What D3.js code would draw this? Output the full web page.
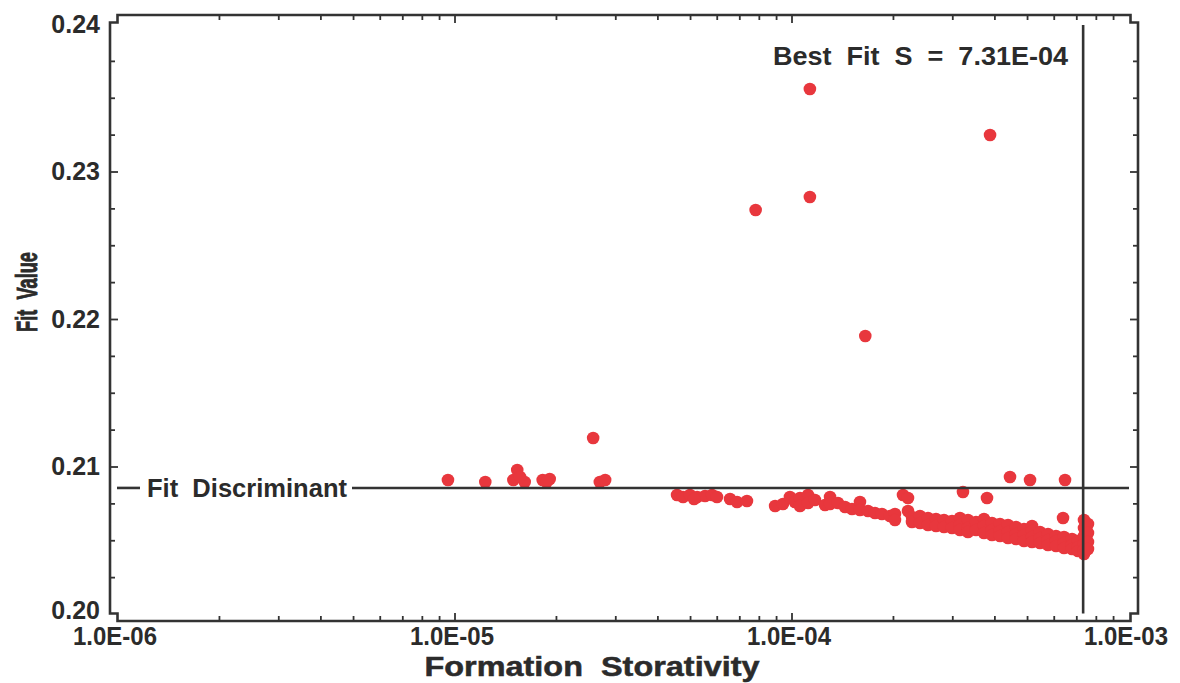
<!DOCTYPE html>
<html><head><meta charset="utf-8">
<script src="https://cdn.jsdelivr.net/npm/d3@7"></script>
<style>
html,body{margin:0;padding:0;background:#fff;}
svg{display:block;}
text{font-family:"Liberation Sans",Arial,Helvetica,sans-serif;font-weight:bold;fill:#2b2b2b;white-space:pre;}
</style></head><body>
<svg id="chart" width="1180" height="683"></svg>
<script>
// ---- axis definitions ----
const xTickValues = [1e-6, 1e-5, 1e-4, 1e-3];
const xTickLabels = ["1.0E-06", "1.0E-05", "1.0E-04", "1.0E-03"];
const yTickValues = [0.20, 0.21, 0.22, 0.23, 0.24];
const yTickLabels = ["0.20", "0.21", "0.22", "0.23", "0.24"];
const xTitle = "Formation  Storativity";
const yTitle = "Fit  Value";

// ---- reference lines ----
const fitDiscriminant = 0.20858;
const discriminantLabel = "Fit  Discriminant";
const bestFitS = 7.31e-4;
const bestFitLabel = "Best  Fit  S  =  7.31E-04";

// ---- data: [storativity, fit value] ----
const leftGroup = [
  [9.53e-6, 0.20912], [1.23e-5, 0.20898], [1.53e-5, 0.20980], [1.49e-5, 0.20912],
  [1.61e-5, 0.20898], [1.56e-5, 0.20932], [1.82e-5, 0.20912], [1.91e-5, 0.20919],
  [1.87e-5, 0.20898], [2.57e-5, 0.21197], [2.69e-5, 0.20898], [2.79e-5, 0.20912]
];
const middleGroup = [
  [4.56e-5, 0.20810], [4.75e-5, 0.20797], [4.98e-5, 0.20810], [5.23e-5, 0.20797],
  [5.52e-5, 0.20803], [5.79e-5, 0.20810], [5.99e-5, 0.20797], [5.12e-5, 0.20783],
  [6.55e-5, 0.20783], [6.87e-5, 0.20763], [7.35e-5, 0.20769], [8.91e-5, 0.20736],
  [9.40e-5, 0.20749], [9.86e-5, 0.20797], [1.02e-4, 0.20763]
];
const outliers = [
  [1.13e-4, 0.23563], [1.13e-4, 0.22831], [7.8e-5, 0.22742], [3.87e-4, 0.23251],
  [1.65e-4, 0.21888]
];
const upperRight = [
  [2.135e-4, 0.20810], [2.209e-4, 0.20790], [3.216e-4, 0.20831], [3.790e-4, 0.20790],
  [4.435e-4, 0.20932], [5.085e-4, 0.20912], [6.459e-4, 0.20912], [6.372e-4, 0.20654]
];
const band = [
  [1.056e-4, 0.20790], [1.056e-4, 0.20736], [1.116e-4, 0.20810], [1.116e-4, 0.20756],
  [1.170e-4, 0.20776], [1.253e-4, 0.20742], [1.297e-4, 0.20797], [1.297e-4, 0.20749],
  [1.369e-4, 0.20756], [1.437e-4, 0.20729], [1.507e-4, 0.20715], [1.591e-4, 0.20763],
  [1.591e-4, 0.20708], [1.681e-4, 0.20702], [1.763e-4, 0.20688], [1.849e-4, 0.20681],
  [1.953e-4, 0.20668], [2.021e-4, 0.20681], [2.021e-4, 0.20641], [2.209e-4, 0.20702],
  [2.270e-4, 0.20661], [2.270e-4, 0.20627], [2.398e-4, 0.20668], [2.398e-4, 0.20620],
  [2.533e-4, 0.20654], [2.533e-4, 0.20607], [2.675e-4, 0.20647], [2.675e-4, 0.20600],
  [2.825e-4, 0.20641], [2.825e-4, 0.20593], [2.984e-4, 0.20634], [2.984e-4, 0.20586],
  [3.151e-4, 0.20654], [3.151e-4, 0.20607], [3.151e-4, 0.20573],
  [3.328e-4, 0.20641], [3.328e-4, 0.20586], [3.328e-4, 0.20559],
  [3.516e-4, 0.20627], [3.516e-4, 0.20573],
  [3.713e-4, 0.20647], [3.713e-4, 0.20600], [3.713e-4, 0.20553],
  [3.922e-4, 0.20620], [3.922e-4, 0.20573], [3.922e-4, 0.20539],
  [4.142e-4, 0.20614], [4.142e-4, 0.20566], [4.142e-4, 0.20532],
  [4.375e-4, 0.20607], [4.375e-4, 0.20559], [4.375e-4, 0.20519],
  [4.621e-4, 0.20593], [4.621e-4, 0.20546], [4.621e-4, 0.20512],
  [4.880e-4, 0.20580], [4.880e-4, 0.20539], [4.880e-4, 0.20498],
  [5.155e-4, 0.20600], [5.155e-4, 0.20566], [5.155e-4, 0.20525], [5.155e-4, 0.20492],
  [5.444e-4, 0.20559], [5.444e-4, 0.20519], [5.444e-4, 0.20485],
  [5.750e-4, 0.20546], [5.750e-4, 0.20505], [5.750e-4, 0.20471],
  [6.074e-4, 0.20532], [6.074e-4, 0.20498], [6.074e-4, 0.20464],
  [6.415e-4, 0.20525], [6.415e-4, 0.20485], [6.415e-4, 0.20451],
  [6.776e-4, 0.20512], [6.776e-4, 0.20471], [6.776e-4, 0.20444],
  [7.060e-4, 0.20498], [7.060e-4, 0.20458], [7.060e-4, 0.20431],
  [7.354e-4, 0.20641], [7.354e-4, 0.20586], [7.354e-4, 0.20532], [7.354e-4, 0.20478],
  [7.354e-4, 0.20437], [7.354e-4, 0.20410],
  [7.556e-4, 0.20614], [7.556e-4, 0.20553], [7.556e-4, 0.20492], [7.556e-4, 0.20444]
];

// ---- drawing ----
const svg = d3.select("#chart");
const x = d3.scaleLog().domain([1e-6, 1e-3]).range([118, 1129]);
const y = d3.scaleLinear().domain([0.20, 0.24]).range([614.5, 24.5]);

const L = x.range()[0] - 8, R = x.range()[1] + 9;
const T = y.range()[1] - 9.5, B = y.range()[0] + 6.5;
const n = 7.5;
const ink = "#333";

// points
const allPoints = [].concat(leftGroup, middleGroup, outliers, upperRight, band);
svg.append("g").selectAll("circle").data(allPoints).join("circle")
  .attr("cx", d => x(d[0])).attr("cy", d => y(d[1])).attr("r", 6.3)
  .attr("fill", "#e8373d");

// frame
const frame = d3.path();
frame.moveTo(L, T + n); frame.lineTo(L + n, T + n); frame.lineTo(L + n, T);
frame.lineTo(R - n, T); frame.lineTo(R - n, T + n); frame.lineTo(R, T + n);
frame.lineTo(R, B - n); frame.lineTo(R - n, B - n); frame.lineTo(R - n, B);
frame.lineTo(L + n, B); frame.lineTo(L + n, B - n); frame.lineTo(L, B - n);
frame.closePath();
svg.append("path").attr("d", frame.toString()).attr("fill", "none")
  .attr("stroke", ink).attr("stroke-width", 2.6);

// ticks
const xMinor = x.ticks().filter(v => !xTickValues.some(t => Math.abs(t - v) / t < 1e-9));
const yMinor = d3.range(0.2025, 0.24, 0.0025).filter(v => !yTickValues.some(t => Math.abs(t - v) < 1e-6));
const tg = svg.append("g").attr("stroke", ink).attr("stroke-width", 1.8);
function xt(vals, len) {
  vals.forEach(v => {
    tg.append("line").attr("x1", x(v)).attr("x2", x(v)).attr("y1", B).attr("y2", B - len);
    tg.append("line").attr("x1", x(v)).attr("x2", x(v)).attr("y1", T).attr("y2", T + len);
  });
}
function yt(vals, len) {
  vals.forEach(v => {
    tg.append("line").attr("y1", y(v)).attr("y2", y(v)).attr("x1", L).attr("x2", L + len);
    tg.append("line").attr("y1", y(v)).attr("y2", y(v)).attr("x1", R).attr("x2", R - len);
  });
}
xt(xTickValues.slice(1, 3), 8); xt(xMinor, 5);
yt(yTickValues.slice(1, 4), 8); yt(yMinor, 5);

// tick labels
svg.append("g").selectAll("text").data(xTickValues).join("text")
  .attr("x", d => x(d) - 3).attr("y", 645).attr("text-anchor", "middle")
  .attr("font-size", 26).attr("textLength", 84).attr("lengthAdjust", "spacingAndGlyphs")
  .text((d, i) => xTickLabels[i]);
svg.append("g").selectAll("text").data(yTickValues).join("text")
  .attr("x", 100).attr("y", (d, i) => y(d) + (i === 0 ? 4 : 8)).attr("text-anchor", "end")
  .attr("font-size", 25).text((d, i) => yTickLabels[i]);

// titles
svg.append("text").attr("x", 592).attr("y", 676).attr("text-anchor", "middle")
  .attr("font-size", 27).attr("textLength", 335).attr("lengthAdjust", "spacingAndGlyphs")
  .attr("stroke", "#2b2b2b").attr("stroke-width", 0.5)
  .text(xTitle);
svg.append("text").attr("transform", "translate(37,292) rotate(-90)").attr("text-anchor", "middle")
  .attr("font-size", 30).attr("textLength", 80).attr("lengthAdjust", "spacingAndGlyphs")
  .attr("stroke", "#2b2b2b").attr("stroke-width", 0.9)
  .text(yTitle);

// fit discriminant line + label
const yd = y(fitDiscriminant);
svg.append("line").attr("x1", 352).attr("x2", x(1e-3)).attr("y1", yd).attr("y2", yd)
  .attr("stroke", ink).attr("stroke-width", 2.6);
svg.append("line").attr("x1", L + 7).attr("x2", L + 30).attr("y1", yd).attr("y2", yd)
  .attr("stroke", ink).attr("stroke-width", 2.6);
svg.append("text").attr("x", 147).attr("y", yd + 9).attr("font-size", 26)
  .attr("textLength", 200).attr("lengthAdjust", "spacingAndGlyphs").text(discriminantLabel);

// best fit vertical line + label
const xb = x(bestFitS);
svg.append("line").attr("x1", xb).attr("x2", xb).attr("y1", T + 10).attr("y2", y(0.20) - 1)
  .attr("stroke", ink).attr("stroke-width", 2.6);
svg.append("text").attr("x", 1068).attr("y", 65).attr("text-anchor", "end").attr("font-size", 26)
  .attr("textLength", 295).attr("lengthAdjust", "spacingAndGlyphs").text(bestFitLabel);
</script>
</body></html>
